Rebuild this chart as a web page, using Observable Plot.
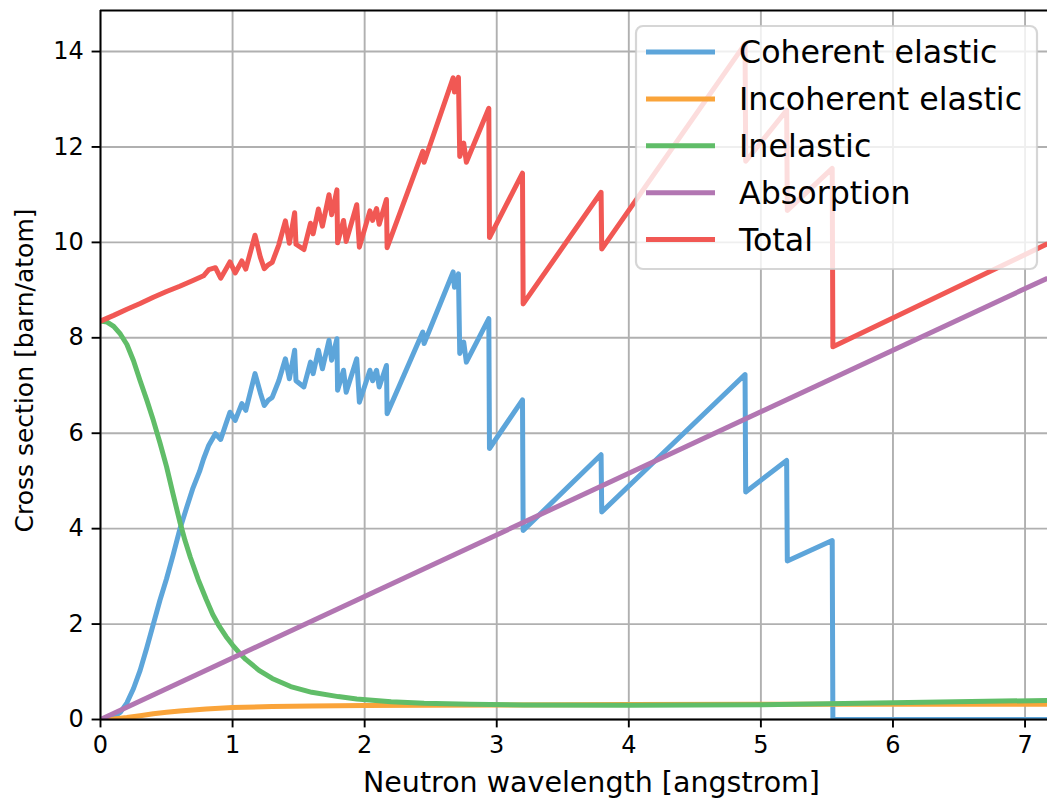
<!DOCTYPE html>
<html>
<head>
<meta charset="utf-8">
<script src="https://cdn.jsdelivr.net/npm/d3@7"></script>
<script src="https://cdn.jsdelivr.net/npm/@observablehq/plot@0.6"></script>
<style>
  html, body { margin: 0; padding: 0; background: #ffffff; }
  #chart { width: 1047px; height: 801px; overflow: hidden; }
</style>
</head>
<body>
<div id="chart"></div>
<script>
// ---- Data ----
const xTicks = [0, 1, 2, 3, 4, 5, 6, 7];
const yTicks = [0, 2, 4, 6, 8, 10, 12, 14];
const xDomain = [0, 7.17];
const yDomain = [0, 14.86];

const seriesNames = ["Coherent elastic", "Incoherent elastic", "Inelastic", "Absorption", "Total"];
const seriesColors = ["#5DA5DA", "#FAA43A", "#60BD68", "#B276B2", "#F15854"];

const coherentX = [0, 0.05, 0.1, 0.15, 0.2, 0.25, 0.3, 0.35, 0.4, 0.45, 0.5, 0.55, 0.6, 0.65, 0.7, 0.75, 0.78,
  0.82, 0.87, 0.91, 0.95, 0.98, 1.02, 1.07, 1.10, 1.17, 1.21, 1.24, 1.27, 1.30, 1.35, 1.40, 1.43, 1.47, 1.48,
  1.54, 1.59, 1.61, 1.65, 1.68, 1.73, 1.75, 1.79, 1.795, 1.84, 1.86, 1.94, 1.96, 2.04, 2.06, 2.09, 2.11, 2.165,
  2.17, 2.44, 2.45, 2.67, 2.68, 2.71, 2.72, 2.75, 2.77, 2.94, 2.945, 3.195, 3.20, 3.79, 3.795, 4.88, 4.885,
  5.195, 5.20, 5.54, 5.545, 7.17];
const coherentY = [0, 0.01, 0.05, 0.15, 0.35, 0.65, 1.03, 1.5, 2.0, 2.5, 2.95, 3.45, 3.98, 4.42, 4.85, 5.2, 5.46,
  5.75, 5.99, 5.87, 6.2, 6.44, 6.27, 6.62, 6.48, 7.25, 6.85, 6.58, 6.69, 6.75, 7.1, 7.56, 7.14, 7.74, 7.1,
  6.97, 7.49, 7.25, 7.74, 7.35, 7.95, 7.53, 7.98, 6.9, 7.32, 6.86, 7.56, 6.65, 7.32, 7.1, 7.32, 6.97, 7.42,
  6.41, 8.12, 7.88, 9.38, 9.06, 9.34, 7.67, 7.91, 7.49, 8.40, 5.68, 6.70, 3.96, 5.55, 4.35, 7.23, 4.77,
  5.43, 3.32, 3.75, 0, 0];

const incoherentX = [0, 0.1, 0.2, 0.3, 0.4, 0.5, 0.6, 0.8, 1.0, 1.3, 1.6, 2.0, 2.5, 3.0, 4.0, 5.0, 6.0, 7.17];
const incoherentY = [0, 0.01, 0.04, 0.08, 0.12, 0.15, 0.18, 0.22, 0.25, 0.27, 0.285, 0.295, 0.30, 0.305, 0.315, 0.32, 0.32, 0.32];

const inelasticX = [0, 0.05, 0.1, 0.15, 0.2, 0.25, 0.3, 0.35, 0.4, 0.45, 0.5, 0.55, 0.6, 0.64, 0.68, 0.74, 0.8,
  0.85, 0.9, 0.95, 1.0, 1.05, 1.1, 1.2, 1.3, 1.44, 1.6, 1.8, 1.94, 2.2, 2.45, 2.8, 3.2, 4.0, 5.0, 6.0, 7.17];
const inelasticY = [8.35, 8.33, 8.24, 8.08, 7.86, 7.52, 7.1, 6.7, 6.27, 5.8, 5.3, 4.72, 4.15, 3.75, 3.4, 2.93, 2.52,
  2.2, 1.95, 1.74, 1.56, 1.4, 1.26, 1.03, 0.86, 0.69, 0.57, 0.48, 0.43, 0.37, 0.34, 0.32, 0.305, 0.30, 0.31, 0.35, 0.40];

const absorptionX = [0, 7.17];
const absorptionY = [0, 9.25];

const totalX = [0, 0.1, 0.2, 0.3, 0.4, 0.5, 0.6, 0.7, 0.78,
  0.82, 0.87, 0.91, 0.95, 0.98, 1.02, 1.07, 1.10, 1.17, 1.21, 1.24, 1.27, 1.30, 1.35, 1.40, 1.43, 1.47, 1.48,
  1.54, 1.59, 1.61, 1.65, 1.68, 1.73, 1.75, 1.79, 1.795, 1.84, 1.86, 1.94, 1.96, 2.04, 2.06, 2.09, 2.11, 2.165,
  2.17, 2.44, 2.45, 2.67, 2.68, 2.71, 2.72, 2.75, 2.77, 2.94, 2.945, 3.195, 3.20, 3.79, 3.795, 4.88, 4.885,
  5.195, 5.20, 5.54, 5.545, 7.17];
const totalY = [8.35, 8.47, 8.6, 8.72, 8.85, 8.97, 9.08, 9.2, 9.3,
  9.43, 9.47, 9.25, 9.44, 9.59, 9.36, 9.61, 9.44, 10.15, 9.69, 9.45, 9.53, 9.58, 9.95, 10.45, 9.98, 10.62, 9.96,
  9.85, 10.40, 10.18, 10.70, 10.34, 11.0, 10.58, 11.1, 9.99, 10.46, 10.02, 10.79, 9.90, 10.66, 10.46, 10.71, 10.38, 10.9,
  9.89, 11.91, 11.68, 13.45, 13.15, 13.46, 11.80, 12.08, 11.68, 12.81, 10.10, 11.45, 8.71, 11.05, 9.86, 14.16, 11.70,
  12.77, 10.67, 11.55, 7.81, 9.97];

const xLabel = "Neutron wavelength [angstrom]";
const yLabel = "Cross section [barn/atom]";

// ---- Build tidy tables ----
const toRows = (xs, ys) => xs.map((x, i) => ({x, y: ys[i]}));
const seriesRows = [
  toRows(coherentX, coherentY),
  toRows(incoherentX, incoherentY),
  toRows(inelasticX, inelasticY),
  toRows(absorptionX, absorptionY),
  toRows(totalX, totalY)
];

const W = 1047, H = 801;
const mL = 100, mR = 0, mT = 10, mB = 82;
const lw = 5, thin = 1.9;
const font = "'DejaVu Sans', sans-serif";

const plot = Plot.plot({
  width: W,
  height: H,
  marginLeft: mL,
  marginRight: mR,
  marginTop: mT,
  marginBottom: mB,
  style: {fontFamily: font, fontSize: "24px", color: "black", background: "white"},
  x: {domain: xDomain},
  y: {domain: yDomain},
  marks: [
    Plot.gridX(xTicks, {stroke: "#b0b0b0", strokeOpacity: 1, strokeWidth: thin}),
    Plot.gridY(yTicks, {stroke: "#b0b0b0", strokeOpacity: 1, strokeWidth: thin}),
    ...seriesRows.map((rows, i) => Plot.line(rows, {
      x: "x", y: "y", stroke: seriesColors[i], strokeWidth: lw, clip: true,
      strokeLinejoin: "round", strokeLinecap: "butt"
    })),
    Plot.ruleX([xDomain[0]], {stroke: "black", strokeWidth: thin}),
    Plot.ruleY(yDomain, {stroke: "black", strokeWidth: thin}),
    Plot.axisX(xTicks, {anchor: "bottom", tickSize: 8.4, tickPadding: 8.4, strokeWidth: thin,
      fontSize: 24, tickFormat: d => String(d), label: null}),
    Plot.axisY(yTicks, {anchor: "left", tickSize: 8.4, tickPadding: 8.4, strokeWidth: thin,
      fontSize: 24, tickFormat: d => String(d), label: null})
  ]
});

document.getElementById("chart").appendChild(plot);

// ---- Axis labels and legend (overlay on the same SVG) ----
const svg = d3.select(plot);
svg.append("text")
  .attr("x", 363)
  .attr("y", 792)
  .attr("text-anchor", "start")
  .attr("font-family", font)
  .attr("font-size", 28.5)
  .attr("fill", "black")
  .text(xLabel);
svg.append("text")
  .attr("transform", `translate(33,${mT + (H - mT - mB) / 2 + 6}) rotate(-90)`)
  .attr("text-anchor", "middle")
  .attr("font-family", font)
  .attr("font-size", 25)
  .attr("fill", "black")
  .text(yLabel);

const lg = svg.append("g");
lg.append("rect")
  .attr("x", 636).attr("y", 26).attr("width", 401).attr("height", 243)
  .attr("rx", 7).attr("ry", 7)
  .attr("fill", "white").attr("fill-opacity", 0.8)
  .attr("stroke", "#cccccc").attr("stroke-opacity", 0.8).attr("stroke-width", 2.2);
seriesNames.forEach((name, i) => {
  const yy = 52 + i * 46.9;
  lg.append("line")
    .attr("x1", 646).attr("x2", 715).attr("y1", yy).attr("y2", yy)
    .attr("stroke", seriesColors[i]).attr("stroke-width", lw);
  lg.append("text")
    .attr("x", 739).attr("y", yy + 11)
    .attr("text-anchor", "start")
    .attr("font-family", font)
    .attr("font-size", 31.7)
    .attr("fill", "black")
    .text(name);
});
</script>
</body>
</html>
